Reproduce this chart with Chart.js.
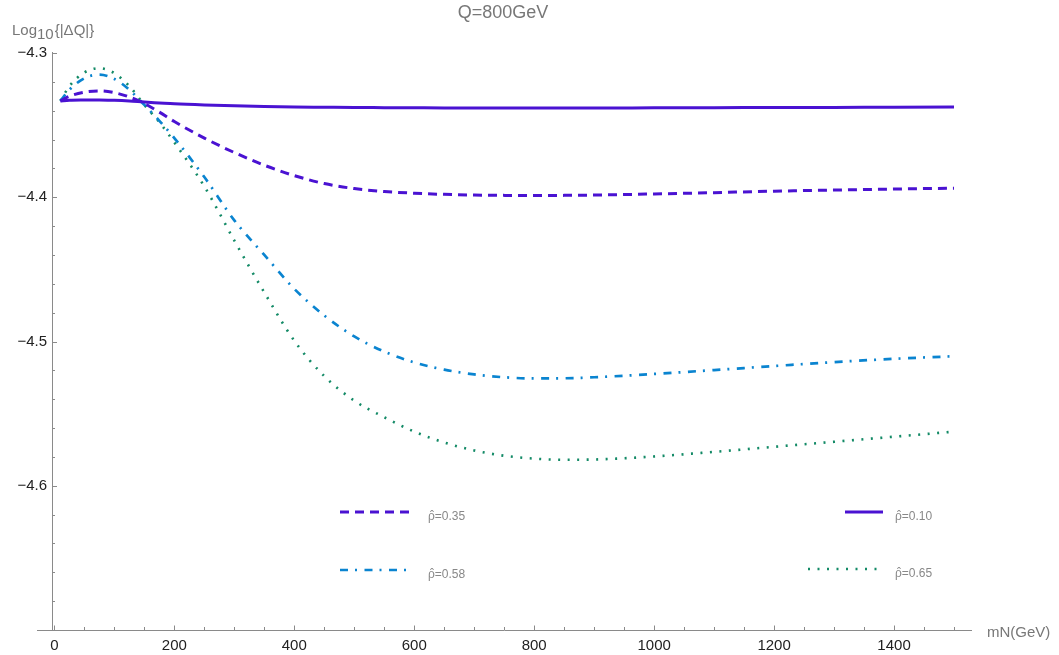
<!DOCTYPE html>
<html>
<head>
<meta charset="utf-8">
<script src="https://cdn.jsdelivr.net/npm/chart.js@4.4.0/dist/chart.umd.min.js"></script>
<style>
  html, body { margin: 0; padding: 0; background: #fff; }
  #wrap { width: 1059px; height: 655px; }
</style>
</head>
<body>
<div id="wrap"><canvas id="chart"></canvas></div>
<script>
// mN (GeV) sample points
const mN = [10, 25, 50, 75, 100, 125, 150, 175, 200, 250, 300, 350, 400, 450, 500, 550, 600, 650, 700, 750, 800, 850, 900, 1000, 1100, 1200, 1300, 1400, 1500];

// Log10{|dQ|} for each rho-hat
const rho010 = [-4.3332, -4.3328, -4.3326, -4.3325, -4.3328, -4.3333, -4.3340, -4.3346, -4.3352, -4.3360, -4.3366, -4.3371, -4.3374, -4.3376, -4.3378, -4.3379, -4.3380, -4.3381, -4.3381, -4.3381, -4.3381, -4.3381, -4.3381, -4.3380, -4.3379, -4.3378, -4.3377, -4.3376, -4.3375];
const rho035 = [-4.3332, -4.3300, -4.3272, -4.3263, -4.3275, -4.3305, -4.3350, -4.3410, -4.3475, -4.3590, -4.3690, -4.3778, -4.3850, -4.3905, -4.3940, -4.3960, -4.3972, -4.3980, -4.3985, -4.3987, -4.3988, -4.3987, -4.3985, -4.3977, -4.3968, -4.3958, -4.3950, -4.3943, -4.3937];
const rho058 = [-4.3332, -4.3255, -4.3175, -4.3150, -4.3180, -4.3255, -4.3360, -4.3470, -4.3590, -4.3860, -4.4160, -4.4400, -4.4635, -4.4820, -4.4965, -4.5070, -4.5145, -4.5195, -4.5228, -4.5248, -4.5256, -4.5255, -4.5248, -4.5225, -4.5198, -4.5170, -4.5143, -4.5120, -4.5102];
const rho065 = [-4.3332, -4.3230, -4.3135, -4.3105, -4.3140, -4.3230, -4.3360, -4.3480, -4.3620, -4.3925, -4.4300, -4.4660, -4.4995, -4.5240, -4.5410, -4.5525, -4.5625, -4.5700, -4.5755, -4.5792, -4.5812, -4.5820, -4.5818, -4.5797, -4.5765, -4.5730, -4.5695, -4.5660, -4.5625];

const xTicks = [0, 200, 400, 600, 800, 1000, 1200, 1400];
const yTicks = [-4.6, -4.5, -4.4, -4.3];

const FONT = '"Liberation Sans", Arial, sans-serif';
const PURPLE = '#4a12d2';
const SKY = '#0a84d0';
const TEAL = '#138a66';

function pts(ys) { return mN.map((x, i) => ({ x: x, y: ys[i] })); }

const series = [
  { value: '=0.10', data: rho010, color: PURPLE, width: 3, dash: [], legend: [845, 883, 512] },
  { value: '=0.35', data: rho035, color: PURPLE, width: 3, dash: [9, 6], legend: [340, 410, 512] },
  { value: '=0.58', data: rho058, color: SKY, width: 2.7, dash: [8, 7, 2, 7.5], legend: [340, 410, 570] },
  { value: '=0.65', data: rho065, color: TEAL, width: 2.6, dash: [2, 7.5], legend: [808, 878, 569] }
];

const decor = {
  id: 'decor',
  afterDraw(chart) {
    const ctx = chart.ctx;
    const xs = chart.scales.x, ys = chart.scales.y;
    const area = chart.chartArea;
    ctx.save();
    // axes
    ctx.strokeStyle = '#8a8a8a';
    ctx.lineWidth = 1;
    ctx.beginPath();
    ctx.moveTo(37, area.bottom + 0.5); ctx.lineTo(area.right, area.bottom + 0.5);
    ctx.moveTo(area.left + 0.5, area.top - 1); ctx.lineTo(area.left + 0.5, area.bottom);
    // x ticks
    for (let v = 0; v <= 1500; v += 50) {
      const px = Math.round(xs.getPixelForValue(v)) + 0.5;
      const len = v % 200 === 0 ? 4.5 : 3;
      ctx.moveTo(px, area.bottom); ctx.lineTo(px, area.bottom - len);
    }
    // y ticks
    for (let k = 0; k <= 20; k++) {
      const v = -4.7 + k * 0.02;
      const py = Math.round(ys.getPixelForValue(v)) + 0.5;
      const len = k % 5 === 0 ? 5 : 3;
      ctx.moveTo(area.left, py); ctx.lineTo(area.left + len, py);
    }
    ctx.stroke();

    // title and axis labels
    ctx.fillStyle = '#777';
    ctx.textBaseline = 'alphabetic';
    ctx.font = '18px ' + FONT;
    ctx.textAlign = 'center';
    ctx.fillText('Q=800GeV', 503, 18);
    ctx.textAlign = 'left';
    ctx.font = '15px ' + FONT;
    ctx.fillText('mN(GeV)', 987, 637);
    let x = 12;
    ctx.fillText('Log', x, 35); x += ctx.measureText('Log').width;
    ctx.fillText('10', x, 39); x += ctx.measureText('10').width + 1;
    ctx.fillText('{|\u0394Q|}', x, 35);

    // legend
    series.forEach(s => {
      const [x0, x1, y] = s.legend;
      ctx.strokeStyle = s.color;
      ctx.lineWidth = s.width;
      ctx.setLineDash(s.dash);
      ctx.beginPath();
      ctx.moveTo(x0, y); ctx.lineTo(x1, y);
      ctx.stroke();
      ctx.setLineDash([]);
      ctx.fillStyle = '#888';
      ctx.font = '12px ' + FONT;
      ctx.textBaseline = 'alphabetic';
      const tx = x0 < 500 ? 428 : 895;
      const base = y + 7.5;
      ctx.textAlign = 'left';
      ctx.fillText('\u03C1', tx, base);
      const w = ctx.measureText('\u03C1').width;
      ctx.textAlign = 'center';
      ctx.fillText('\u02C6', tx + w / 2 + 0.5, base);
      ctx.textAlign = 'left';
      ctx.fillText(s.value, tx + w, base);
    });
    ctx.restore();
  }
};

new Chart(document.getElementById('chart').getContext('2d'), {
  type: 'line',
  data: {
    datasets: series.map(s => ({
      label: '\u03C1\u0302' + s.value,
      data: pts(s.data),
      borderColor: s.color,
      borderWidth: s.width,
      borderDash: s.dash,
      borderCapStyle: 'butt',
      pointRadius: 0,
      fill: false,
      cubicInterpolationMode: 'monotone'
    }))
  },
  options: {
    responsive: true,
    maintainAspectRatio: false,
    animation: false,
    devicePixelRatio: 1,
    layout: { padding: { top: 53, right: 87, bottom: 0, left: 0 } },
    plugins: { legend: { display: false }, tooltip: { enabled: false }, title: { display: false } },
    scales: {
      x: {
        type: 'linear', min: -4, max: 1530,
        grid: { display: false, drawTicks: false }, border: { display: false },
        afterBuildTicks: s => { s.ticks = xTicks.map(v => ({ value: v })); },
        afterFit: s => { s.height = 25; },
        ticks: { autoSkip: false, maxRotation: 0, padding: 7, color: '#222', font: { family: FONT, size: 15 },
                 callback: v => String(v) }
      },
      y: {
        type: 'linear', min: -4.7, max: -4.3,
        grid: { display: false, drawTicks: false }, border: { display: false },
        afterBuildTicks: s => { s.ticks = yTicks.map(v => ({ value: v })); },
        afterFit: s => { s.width = 52; },
        ticks: { autoSkip: false, padding: 5, color: '#222', font: { family: FONT, size: 15 },
                 callback: v => '\u2212' + Math.abs(v).toFixed(1) }
      }
    }
  },
  plugins: [decor]
});
</script>
</body>
</html>
